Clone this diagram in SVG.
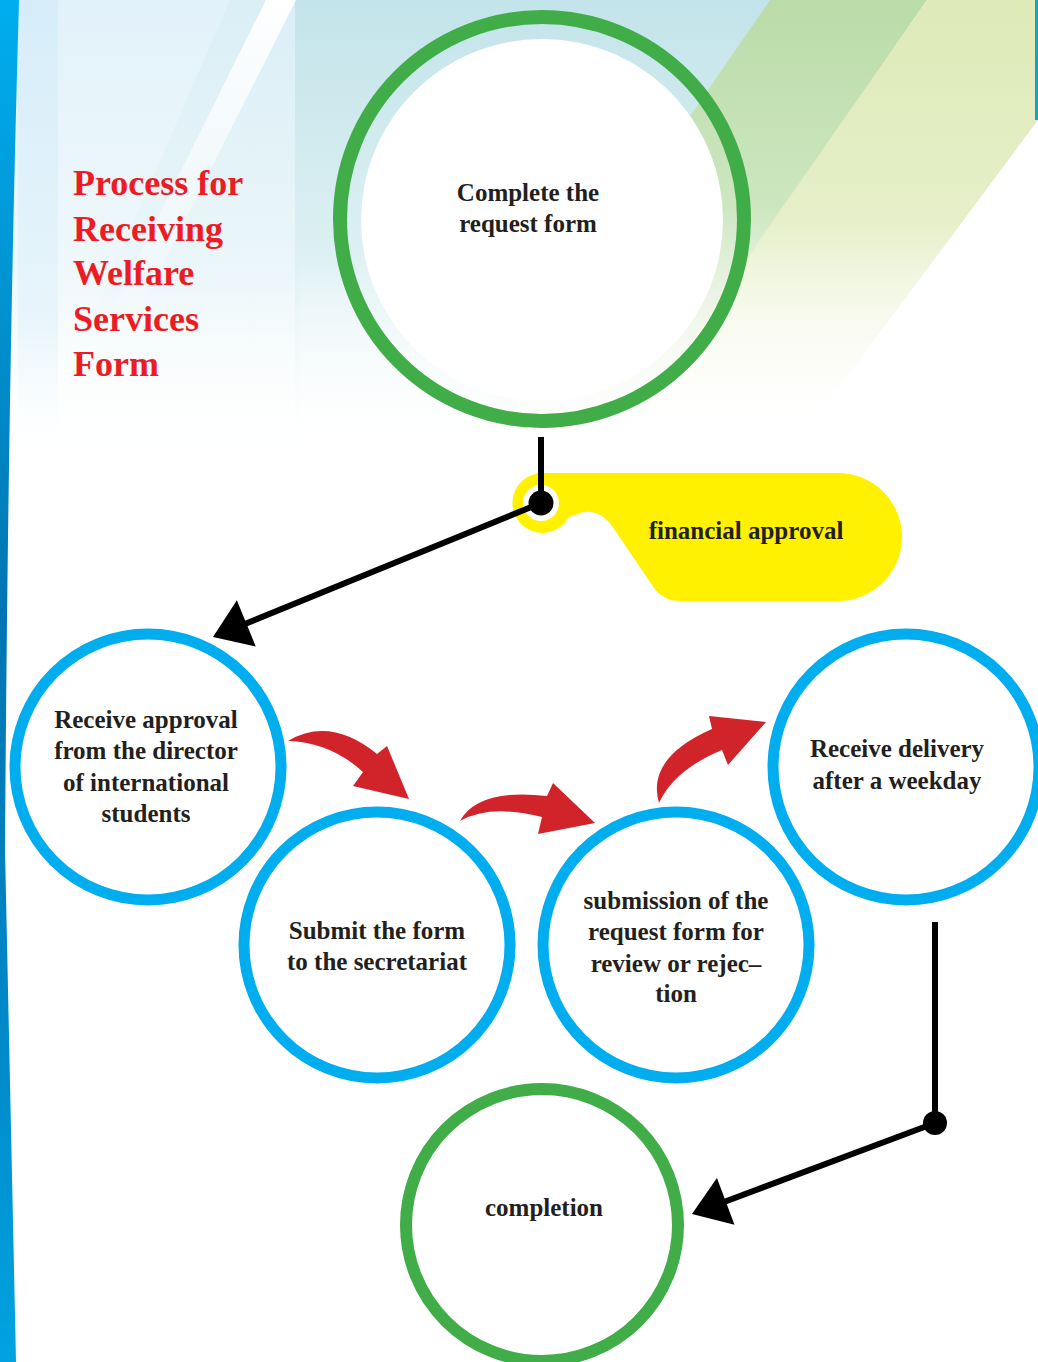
<svg xmlns="http://www.w3.org/2000/svg" width="1038" height="1362" viewBox="0 0 1038 1362">
<defs>
<style>
.lbl{font-family:"Liberation Serif","Times New Roman",serif;font-weight:bold;font-size:25px;fill:#231f20;text-anchor:middle}
.ttl{font-family:"Liberation Serif","Times New Roman",serif;font-weight:bold;font-size:36px;fill:#ed1c24}
.blue{fill:#ffffff;stroke:#00aeef;stroke-width:11}
.green{stroke:#41ad49;fill:none}
.conn{stroke:#000;stroke-width:6;fill:none}
.red{fill:#d1232a}
</style>
<linearGradient id="gTeal" x1="0" y1="0" x2="0" y2="1">
<stop offset="0" stop-color="#c3e4ea"/>
<stop offset="0.55" stop-color="#ddf0f3"/>
<stop offset="1" stop-color="#ffffff" stop-opacity="0"/>
</linearGradient>
<linearGradient id="gLeft" x1="0" y1="0" x2="0" y2="1">
<stop offset="0" stop-color="#e2f2fa"/>
<stop offset="0.6" stop-color="#eff8fb"/>
<stop offset="1" stop-color="#ffffff" stop-opacity="0"/>
</linearGradient>
<linearGradient id="gLeftBand" x1="0" y1="0" x2="0" y2="1">
<stop offset="0" stop-color="#d6edf9"/>
<stop offset="0.7" stop-color="#e8f5fb"/>
<stop offset="1" stop-color="#ffffff" stop-opacity="0"/>
</linearGradient>
<linearGradient id="gGreen" x1="0" y1="0" x2="0" y2="1">
<stop offset="0" stop-color="#badca8"/>
<stop offset="0.45" stop-color="#cde6c0"/>
<stop offset="1" stop-color="#ffffff" stop-opacity="0"/>
</linearGradient>
<linearGradient id="gYel" x1="0" y1="0" x2="0" y2="1">
<stop offset="0" stop-color="#deeab8"/>
<stop offset="0.5" stop-color="#e6efc8"/>
<stop offset="1" stop-color="#ffffff" stop-opacity="0"/>
</linearGradient>
<linearGradient id="gStripe" x1="0" y1="0" x2="0" y2="1">
<stop offset="0" stop-color="#ffffff"/>
<stop offset="1" stop-color="#ffffff" stop-opacity="0"/>
</linearGradient>
<linearGradient id="gBar" x1="0" y1="0" x2="0" y2="1">
<stop offset="0" stop-color="#00aeef"/>
<stop offset="0.45" stop-color="#0075b2"/>
<stop offset="0.75" stop-color="#0088c8"/>
<stop offset="1" stop-color="#00a3e0"/>
</linearGradient>
<marker id="ah" markerUnits="userSpaceOnUse" viewBox="-18 -27 40 54" markerWidth="40" markerHeight="54" refX="0" refY="0" orient="auto">
<path d="M20,0 L-16,-25 L-16,25 Z" fill="#000"/>
</marker>
</defs>

<g id="background">
<rect x="0" y="0" width="1038" height="1362" fill="#ffffff"/>
<rect x="0" y="0" width="300" height="460" fill="url(#gLeft)"/>
<rect x="18" y="0" width="40" height="460" fill="url(#gLeftBand)"/>
<polygon points="295,0 775,0 470,460 295,460" fill="url(#gTeal)"/>
<polygon points="230,0 295,0 295,460 30,460" fill="url(#gTeal)" opacity="0.25"/>
<polygon points="770,0 927,0 610,460 453,460" fill="url(#gGreen)"/>
<polygon points="927,0 1038,0 1038,120 800,440 620,440" fill="url(#gYel)"/>
<polygon points="266,0 296,0 120,350 92,350" fill="url(#gStripe)"/>
<rect x="1035" y="0" width="3" height="120" fill="#13a6b8"/>
<path d="M0,0 L19,0 Q8,380 5,850 L16,1362 L0,1362 Z" fill="url(#gBar)"/>
</g>

<g id="title">
<text class="ttl" x="73" y="195">Process for</text>
<text class="ttl" x="73" y="241">Receiving</text>
<text class="ttl" x="73" y="285">Welfare</text>
<text class="ttl" x="73" y="331">Services</text>
<text class="ttl" x="73" y="376">Form</text>
</g>

<g id="node-complete">
<circle cx="542" cy="220" r="181" fill="#ffffff"/>
<circle class="green" cx="542" cy="219" r="202" stroke-width="14"/>
<text class="lbl" x="528" y="201">Complete the</text>
<text class="lbl" x="528" y="232">request form</text>
</g>

<g id="node-financial">
<path d="M541,473 L838,473 A64,64 0 0 1 838,601 L680,601 Q664,601 654,588 L612,526 Q600,510 584,512 L569,517 A30,30 0 1 1 541,473 Z" fill="#fff100"/>
<circle cx="541" cy="503" r="18" fill="#ffffff"/>
<text class="lbl" x="746" y="539">financial approval</text>
</g>

<g id="node-director">
<circle class="blue" cx="148" cy="767" r="133"/>
<text class="lbl" x="146" y="728">Receive approval</text>
<text class="lbl" x="146" y="759">from the director</text>
<text class="lbl" x="146" y="791">of international</text>
<text class="lbl" x="146" y="822">students</text>
</g>

<g id="node-secretariat">
<circle class="blue" cx="377" cy="945" r="133"/>
<text class="lbl" x="377" y="939">Submit the form</text>
<text class="lbl" x="377" y="970">to the secretariat</text>
</g>

<g id="node-review">
<circle class="blue" cx="676" cy="945" r="133"/>
<text class="lbl" x="676" y="909">submission of the</text>
<text class="lbl" x="676" y="940">request form for</text>
<text class="lbl" x="676" y="972">review or rejec–</text>
<text class="lbl" x="676" y="1002">tion</text>
</g>

<g id="node-delivery">
<circle class="blue" cx="906" cy="767" r="133"/>
<text class="lbl" x="897" y="757">Receive delivery</text>
<text class="lbl" x="897" y="789">after a weekday</text>
</g>

<g id="node-completion">
<circle cx="542" cy="1225" r="136" fill="#ffffff" class="green" stroke-width="12"/>
<text class="lbl" x="544" y="1216">completion</text>
</g>

<g id="connectors">
<line class="conn" x1="541" y1="437" x2="541" y2="503"/>
<line class="conn" x1="541" y1="503" x2="231.5" y2="629.4" marker-end="url(#ah)"/>
<circle cx="541" cy="503" r="12.5" fill="#000"/>
<line class="conn" x1="935" y1="922" x2="935" y2="1123"/>
<line class="conn" x1="935" y1="1123" x2="710.7" y2="1207" marker-end="url(#ah)"/>
<circle cx="935" cy="1123" r="12" fill="#000"/>
<path class="red" d="M288,741 Q330,716 377,754 L387,746 L409,799 L353,786 L363,772 Q330,742 288,741 Z"/>
<path class="red" d="M460,821 Q478,788 547,796 L553,783 L595,823 L538,834 L542,817 Q490,804 460,821 Z"/>
<path class="red" d="M659,803 Q646,758 712,729 L709,716 L766,722 L728,765 L722,750 Q674,770 659,803 Z"/>
</g>
</svg>
